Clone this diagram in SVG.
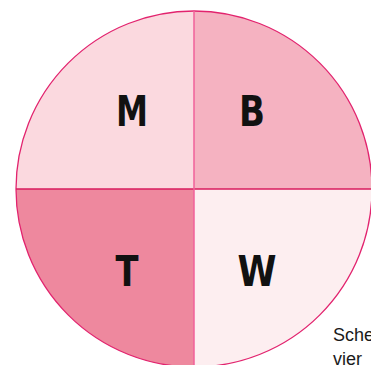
<svg xmlns="http://www.w3.org/2000/svg" width="371" height="365" viewBox="0 0 371 365">
<style>
.q{stroke:none}
.lbl{font-family:"DejaVu Sans",Arial,sans-serif;font-weight:bold;font-size:43px;fill:#111;text-anchor:middle}
.cap{font-family:"Liberation Sans",Arial,sans-serif;font-size:18px;fill:#1a1a1a}
</style>
<rect width="371" height="365" fill="#ffffff"/>
<g id="M"><path class="q" d="M194,189 L16,189 A178,178 0 0 1 194,11 Z" fill="#fbd9df"/><text class="lbl" x="132" y="126" textLength="32" lengthAdjust="spacingAndGlyphs">M</text></g>
<g id="B"><path class="q" d="M194,189 L194,11 A178,178 0 0 1 372,189 Z" fill="#f5b2c1"/><text class="lbl" x="252" y="126" textLength="26" lengthAdjust="spacingAndGlyphs">B</text></g>
<g id="T"><path class="q" d="M194,189 L194,367 A178,178 0 0 1 16,189 Z" fill="#ee889e"/><text class="lbl" x="127" y="286" textLength="23" lengthAdjust="spacingAndGlyphs">T</text></g>
<g id="W"><path class="q" d="M194,189 L372,189 A178,178 0 0 1 194,367 Z" fill="#fdeef0"/><text class="lbl" x="257" y="286" textLength="39" lengthAdjust="spacingAndGlyphs">W</text></g>
<g id="connectors" fill="none">
<circle cx="194" cy="189" r="178" stroke="#e2236e" stroke-width="1.3"/>
<line x1="16" y1="189" x2="372" y2="189" stroke="#d81b5e" stroke-width="1.5"/>
<line x1="194" y1="11" x2="194" y2="367" stroke="#f0609a" stroke-width="1.5"/>
</g>
<text class="cap" x="333" y="341">Sche</text>
<text class="cap" x="333" y="365">vier</text>
</svg>
